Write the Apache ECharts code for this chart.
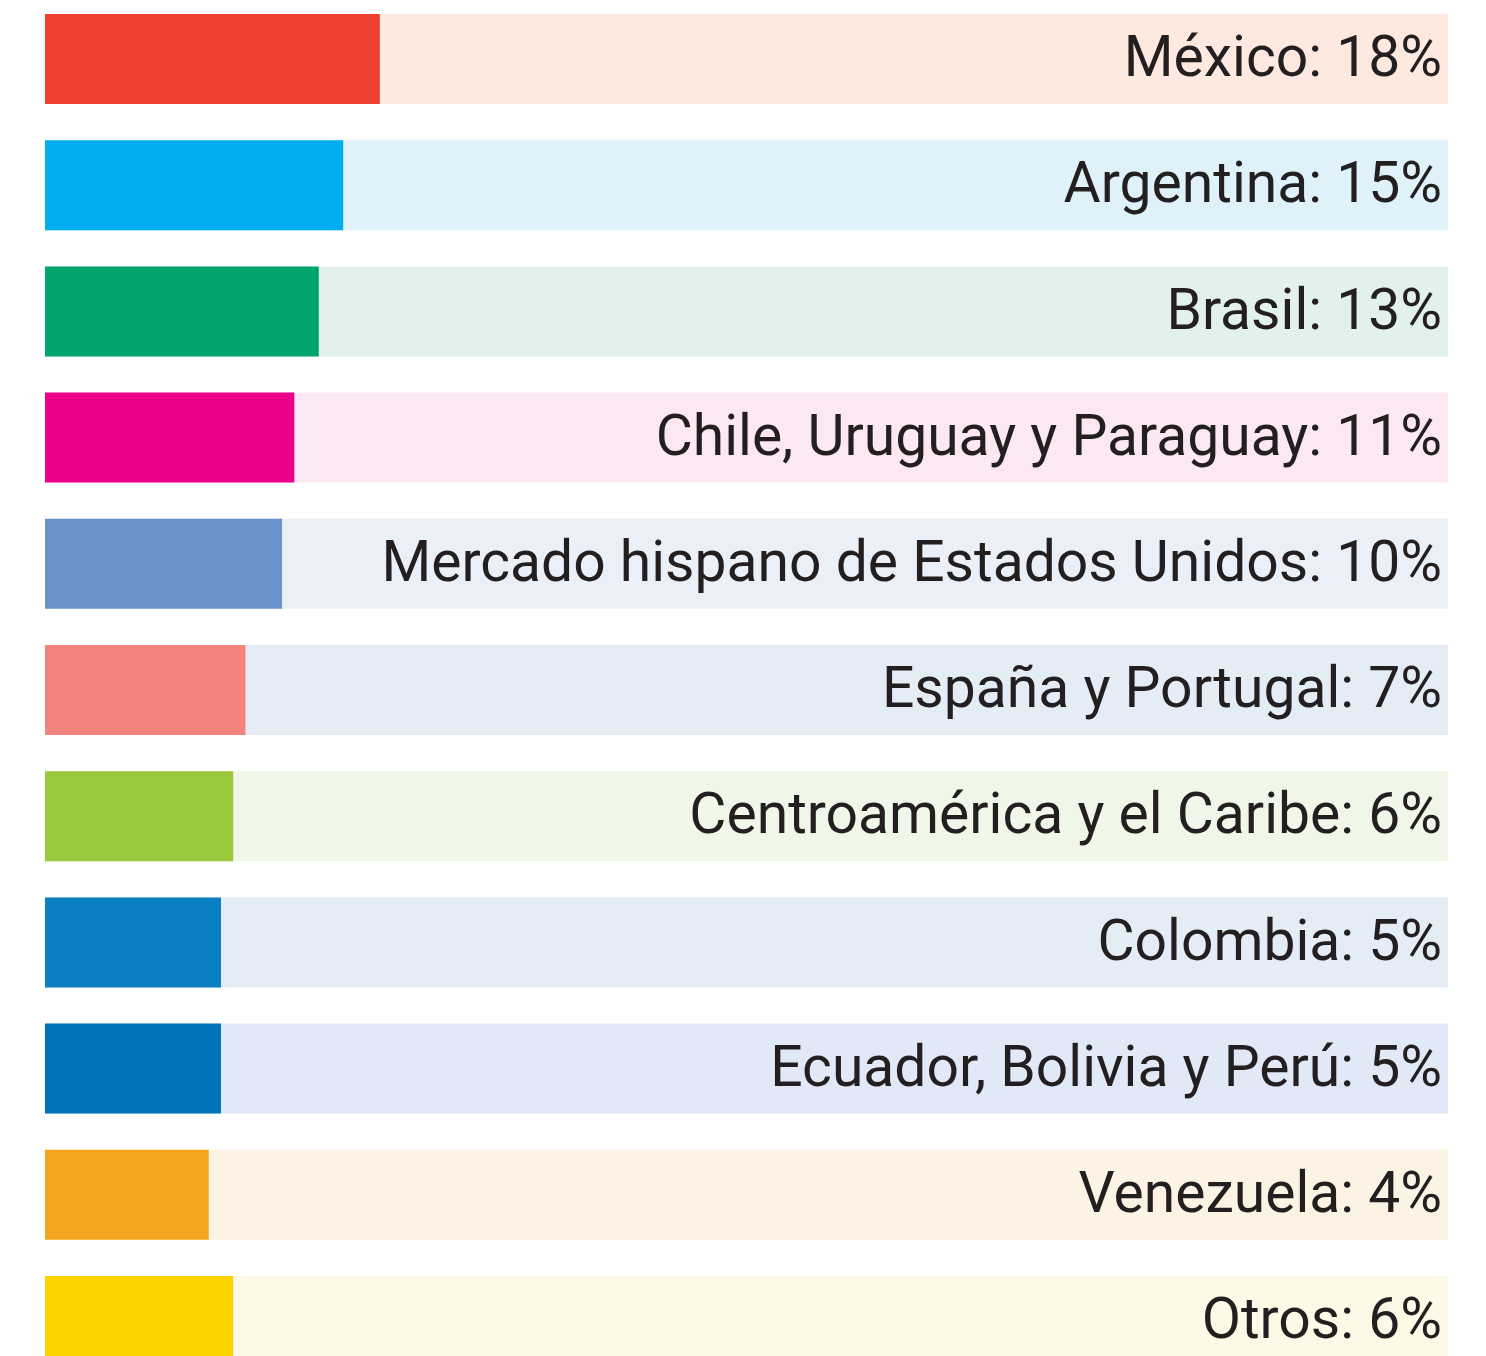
<!DOCTYPE html>
<html><head><meta charset="utf-8">
<script src="https://cdn.jsdelivr.net/npm/echarts@6/dist/echarts.min.js"></script>
<style>html,body{margin:0;padding:0;background:#fff}#c{width:1486px;height:1356px}</style>
</head><body><div id="c"></div>
<script>
const categories = ["México","Argentina","Brasil","Chile, Uruguay y Paraguay","Mercado hispano de Estados Unidos","España y Portugal","Centroamérica y el Caribe","Colombia","Ecuador, Bolivia y Perú","Venezuela","Otros"];
const values = [18,15,13,11,10,7,6,5,5,4,6];
const barColors = ["#ef3f2f","#00aeef","#00a56b","#ec008c","#6a93cc","#f4837d","#9bc93d","#0a7fc2","#0072bc","#f6a51f","#fcd200"];
const bgColors = ["#fde9e0","#dff2fa","#e2f1ea","#fce8f2","#ebf0f8","#e4ecf6","#f1f7e8","#e4ecf6","#e2e9f6","#fdf3e4","#fef8e7"];
const axisMin = -9.4, axisMax = 105.4;

const chart = echarts.init(document.getElementById('c'), null, {renderer:'canvas'});
chart.setOption({
  animation:false,
  grid:{left:45,right:38,top:-4.1,bottom:-28.1,containLabel:false,outerBoundsMode:'none'},
  xAxis:{type:'value',min:axisMin,max:axisMax,startValue:axisMin,show:false},
  yAxis:{type:'category',data:categories,inverse:true,show:false},
  series:[
    {type:'bar',name:'bg',barWidth:90,barGap:'-100%',silent:true,
     data:categories.map((c,i)=>({value:axisMax,itemStyle:{color:bgColors[i]}})),
     label:{show:true,position:'insideRight',distance:6,offset:[0,3],color:'#231f20',fontFamily:'Roboto',fontSize:57,
       formatter:p=>categories[p.dataIndex]+': '+values[p.dataIndex]+'%'},
     z:1},
    {type:'bar',name:'val',barWidth:90,barGap:'-100%',
     data:values.map((v,i)=>({value:v,itemStyle:{color:barColors[i]}})),
     z:2}
  ]
});
</script></body></html>
